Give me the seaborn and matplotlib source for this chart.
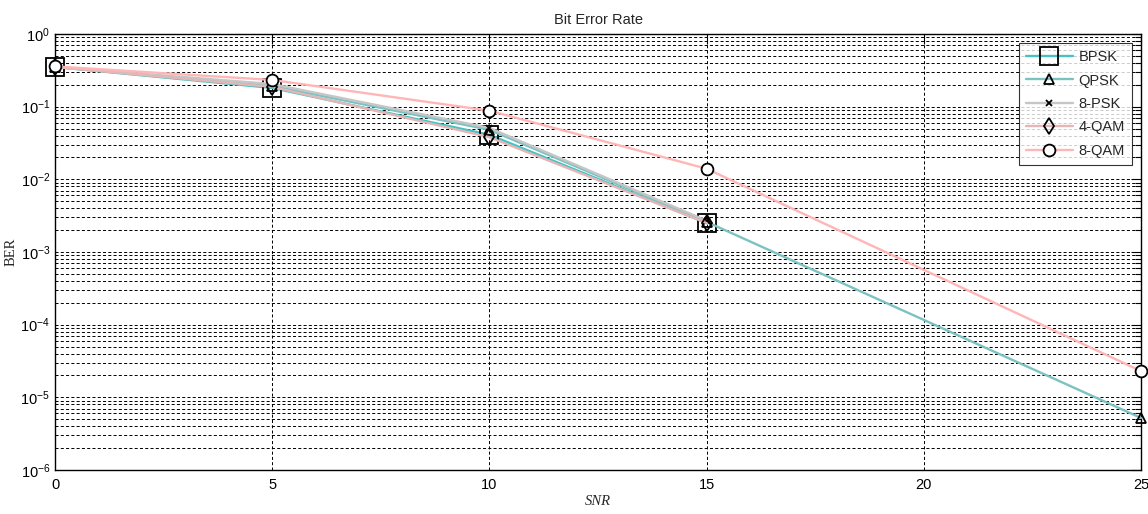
import matplotlib
matplotlib.use("Agg")
import matplotlib.pyplot as plt
import seaborn as sns
import pandas as pd
import numpy as np
from matplotlib.ticker import LogLocator, FixedLocator, NullFormatter

# ---- data ----
snr_short = [0, 5, 10, 15]
snr_long = [0, 5, 10, 15, 25]
ber_bpsk = [0.352, 0.181, 0.041, 0.0025]
ber_qpsk = [0.352, 0.193, 0.048, 0.0026, 5.2e-6]
ber_8psk = [0.352, 0.205, 0.051, 0.0027]
ber_4qam = [0.352, 0.187, 0.038, 0.0025]
ber_8qam = [0.358, 0.233, 0.088, 0.014, 2.3e-5]
labels = ["BPSK", "QPSK", "8-PSK", "4-QAM", "8-QAM"]
xticks = [0, 5, 10, 15, 20, 25]

series = [
    (labels[0], snr_short, ber_bpsk),
    (labels[1], snr_long, ber_qpsk),
    (labels[2], snr_short, ber_8psk),
    (labels[3], snr_short, ber_4qam),
    (labels[4], snr_long, ber_8qam),
]
styles = {
    "BPSK": dict(color="#45c3c3", marker="s", ms=13, mfc="none"),
    "QPSK": dict(color="#7cc2c2", marker="^", ms=6.5, mfc="none"),
    "8-PSK": dict(color="#c6c6c6", marker="x", ms=5, mfc="none"),
    "4-QAM": dict(color="#e6b6b6", marker="d", ms=8, mfc="none"),
    "8-QAM": dict(color="#ffb6b6", marker="o", ms=8.5, mfc="white"),
}

sns.set_theme(style="white")
plt.rcParams["font.family"] = ["Liberation Sans Narrow", "Liberation Sans", "DejaVu Sans"]
plt.rcParams["lines.scale_dashes"] = False

fig = plt.figure(figsize=(11.48, 5.14), dpi=100)
ax = fig.add_axes([55 / 1148, 1 - 470 / 514, (1141 - 55) / 1148, (470 - 34) / 514])

for name, x, y in series:
    df = pd.DataFrame({"SNR": x, "BER": y})
    st = styles[name]
    sns.lineplot(data=df, x="SNR", y="BER", ax=ax, color=st["color"], lw=1.7,
                 marker=st["marker"], markersize=st["ms"], markerfacecolor=st["mfc"],
                 markeredgecolor="black", markeredgewidth=1.3, label=name,
                 clip_on=False, zorder=3)

ax.set_yscale("log")
ax.set_xlim(0, 25)
ax.set_ylim(1e-6, 1)
ax.xaxis.set_major_locator(FixedLocator(xticks))
ax.yaxis.set_major_locator(LogLocator(base=10, numticks=10))
ax.yaxis.set_minor_locator(LogLocator(base=10, subs=np.arange(2, 10), numticks=100))
ax.yaxis.set_minor_formatter(NullFormatter())

grid_kw = dict(color="black", linewidth=0.7, linestyle=(0, (2.2, 1.6)))
ax.grid(True, which="major", axis="both", **grid_kw)
ax.grid(True, which="minor", axis="y", **grid_kw)
ax.set_axisbelow(True)

for sp in ax.spines.values():
    sp.set_color("black")
    sp.set_linewidth(1.0)
ax.tick_params(which="both", direction="in", top=True, right=True, colors="black",
               labelsize=10.5, width=0.8)
ax.tick_params(which="major", length=7)
ax.tick_params(which="minor", length=4)
ax.tick_params(axis="x", pad=6)

ax.set_title("Bit Error Rate", fontsize=10.5, pad=7)
ax.set_xlabel("SNR", family=["Liberation Serif", "DejaVu Serif"], style="italic",
              fontsize=10.5, labelpad=2)
ax.set_ylabel("BER", family=["Liberation Serif", "DejaVu Serif"], fontsize=10.5,
              labelpad=2)

leg = ax.legend(loc="upper right", frameon=True, fancybox=False, edgecolor="black",
                fontsize=10.5, handlelength=3.2, borderaxespad=0.6, labelspacing=0.65,
                handletextpad=0.4, borderpad=0.5)
leg.get_frame().set_linewidth(0.8)

fig.savefig("out.png", dpi=100)
